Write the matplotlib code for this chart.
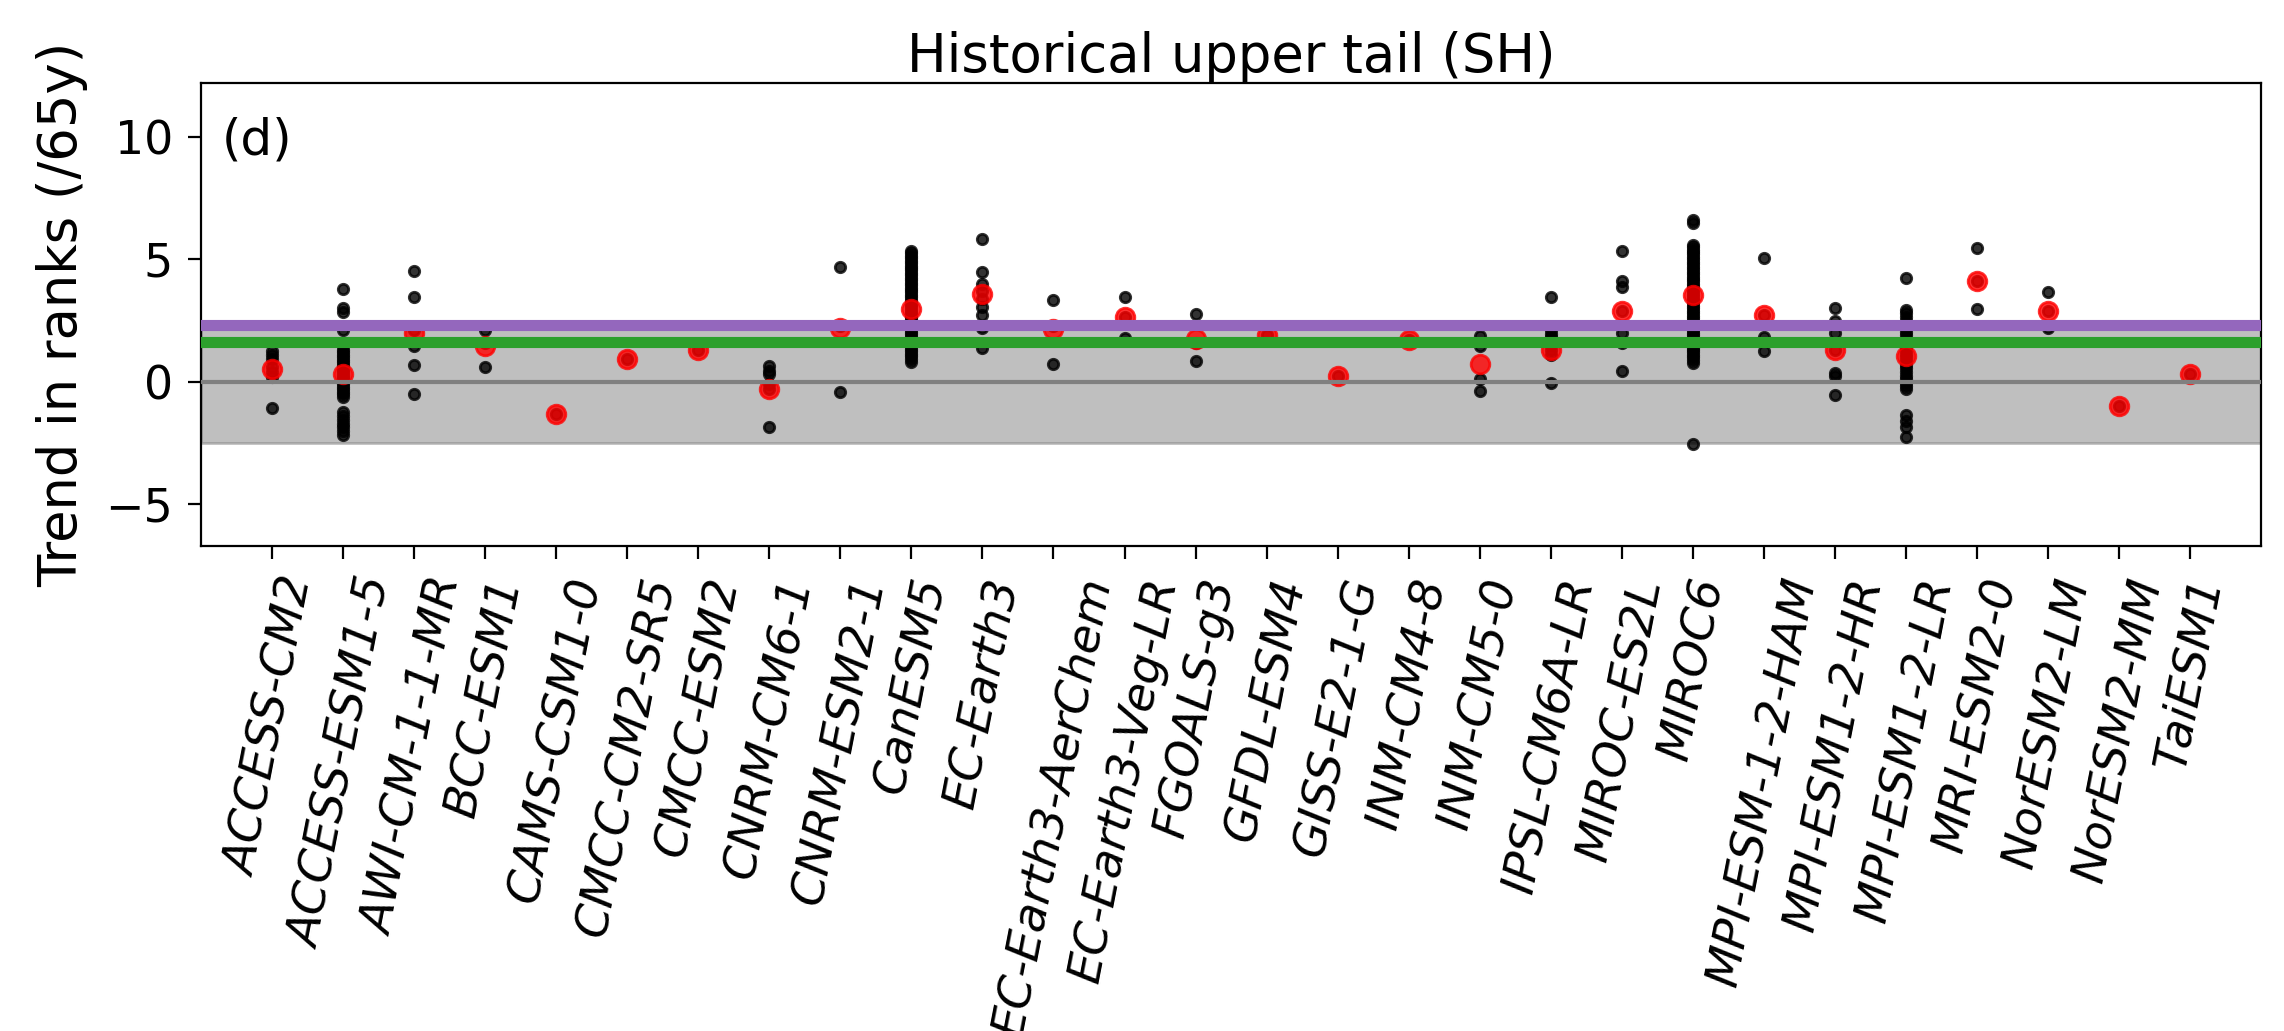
import matplotlib

matplotlib.use("Agg")
import matplotlib.pyplot as plt
import numpy as np

models = [
    "ACCESS-CM2", "ACCESS-ESM1-5", "AWI-CM-1-1-MR", "BCC-ESM1", "CAMS-CSM1-0",
    "CMCC-CM2-SR5", "CMCC-ESM2", "CNRM-CM6-1", "CNRM-ESM2-1", "CanESM5",
    "EC-Earth3", "EC-Earth3-AerChem", "EC-Earth3-Veg-LR", "FGOALS-g3", "GFDL-ESM4",
    "GISS-E2-1-G", "INM-CM4-8", "INM-CM5-0", "IPSL-CM6A-LR", "MIROC-ES2L",
    "MIROC6", "MPI-ESM-1-2-HAM", "MPI-ESM1-2-HR", "MPI-ESM1-2-LR", "MRI-ESM2-0",
    "NorESM2-LM", "NorESM2-MM", "TaiESM1",
]

# ensemble-mean trend per model (red)
ens_mean = [
    0.53, 0.31, 1.98, 1.45, -1.30, 0.95, 1.29, -0.29, 2.18, 2.96,
    3.59, 2.14, 2.63, 1.74, 1.92, 0.24, 1.72, 0.75, 1.29, 2.90,
    3.53, 2.72, 1.29, 1.05, 4.13, 2.88, -0.99, 0.31,
]

# individual members per model (black)
members = [
    [1.24, 1.10, 0.93, 0.60, 0.40, 0.20, -1.06],
    [3.80, 3.03, 2.85, 2.10, 1.55, 1.45, 1.30, 1.20, 1.10, 1.00, 0.90, 0.80, 0.70,
     0.60, 0.50, 0.40, 0.30, 0.20, 0.10, 0.00, -0.10, -0.20, -0.30, -0.40, -0.50,
     -0.62, -1.24, -1.40, -1.55, -1.70, -1.85, -2.00, -2.17],
    [4.53, 3.46, 2.10, 1.45, 0.68, -0.50],
    [2.10, 1.60, 0.62],
    [-1.30],
    [0.95],
    [1.29],
    [0.64, 0.45, 0.31, -0.10, -0.30, -1.84],
    [4.69, 2.28, -0.43],
    [5.35, 5.25, 5.15, 5.05, 4.95, 4.85, 4.75, 4.65, 4.55, 4.45, 4.35, 4.25, 4.15,
     4.05, 3.95, 3.85, 3.75, 3.65, 3.55, 3.45, 3.35, 3.25, 3.15, 3.05, 2.95, 2.85,
     2.75, 2.65, 2.55, 2.45, 2.35, 2.25, 2.15, 2.05, 1.95, 1.85, 1.75, 1.65, 1.55,
     1.45, 1.35, 1.25, 1.15, 1.05, 0.95, 0.80],
    [5.83, 4.49, 4.00, 3.70, 3.40, 3.05, 2.72, 2.20, 1.38],
    [3.36, 2.30, 0.75],
    [3.46, 2.63, 1.78],
    [2.79, 1.60, 0.84],
    [1.92],
    [0.24],
    [1.72],
    [1.88, 1.45, 0.10, -0.36],
    [3.46, 2.10, 1.95, 1.85, 1.70, 1.60, 1.50, 1.30, 1.10, -0.05],
    [5.36, 4.13, 3.86, 2.90, 2.01, 1.60, 0.44],
    [6.60, 6.47, 5.60, 5.50, 5.40, 5.30, 5.20, 5.10, 5.00, 4.90, 4.80, 4.70, 4.60,
     4.50, 4.40, 4.30, 4.20, 4.10, 4.00, 3.90, 3.80, 3.70, 3.60, 3.50, 3.40, 3.30,
     3.20, 3.10, 3.00, 2.90, 2.80, 2.70, 2.60, 2.50, 2.40, 2.30, 2.20, 2.10, 2.00,
     1.90, 1.80, 1.70, 1.60, 1.50, 1.40, 1.30, 1.20, 1.10, 1.00, 0.90, 0.78, -2.55],
    [5.04, 2.72, 1.85, 1.25],
    [3.03, 2.50, 2.00, 1.29, 0.38, 0.24, -0.54],
    [4.26, 2.92, 2.80, 2.65, 2.50, 2.35, 2.20, 2.05, 1.90, 1.75, 1.60, 1.45, 1.30,
     1.15, 1.00, 0.85, 0.70, 0.55, 0.40, 0.25, 0.10, -0.05, -0.17, -0.29, -1.37,
     -1.60, -1.84, -2.24],
    [5.47, 4.13, 2.96],
    [3.66, 2.88, 2.18],
    [-0.99],
    [0.31],
]

band_low, band_high = -2.48, 2.35
green_level = 1.62
purple_level = 2.33

plt.rcParams.update({"font.size": 19, "font.family": "DejaVu Sans"})

fig = plt.figure(figsize=(11.42, 5.155), dpi=200)
ax = fig.add_axes([0.088, 0.4704, 0.902, 0.4491])

x = np.arange(len(models))

ax.axhspan(band_low, band_high, color="gray", alpha=0.5)

for i, vals in enumerate(members):
    ax.scatter([x[i]] * len(vals), vals, s=14, color="k", alpha=0.8, zorder=3)
ax.scatter(x, ens_mean, s=45, color="red", alpha=0.8, zorder=4)

ax.axhline(0, color="gray", linewidth=1.5, zorder=5)
ax.axhline(green_level, color="tab:green", linewidth=4, zorder=5)
ax.axhline(purple_level, color="tab:purple", linewidth=4, zorder=5)

ax.set_xticks(x)
ax.set_xticklabels(models, rotation=79, style="italic", fontsize=16.8)
ax.set_xlim(-1, len(models))
ax.set_ylim(-6.7, 12.2)
ax.set_yticks([-5, 0, 5, 10])
ax.tick_params(axis="y", labelsize=16.5, length=4.7, pad=5.4)
ax.tick_params(axis="x", length=4.5, pad=5.5)
ax.set_ylabel("Trend in ranks (/65y)", fontsize=19, labelpad=6)
ax.set_title("Historical upper tail (SH)", fontsize=19, pad=3.3)
ax.text(0.01, 0.875, "(d)", transform=ax.transAxes, va="center", ha="left",
        fontsize=18)

fig.savefig("out.png", dpi=200)
